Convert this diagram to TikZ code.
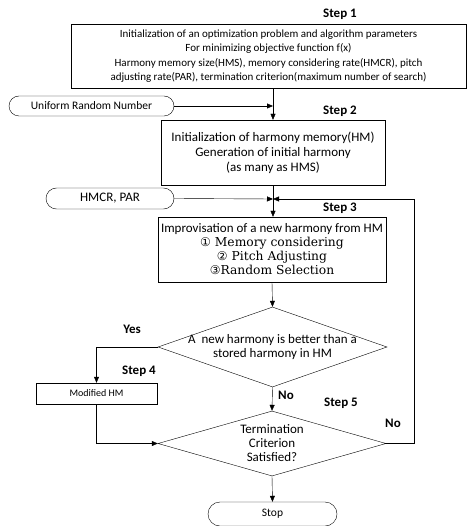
\documentclass[tikz,border=0pt]{standalone}
\usepackage{fontspec}
\setmainfont{Carlito}
\newfontfamily\serifnum{DejaVu Serif}
\newfontfamily\circfont{DejaVu Sans}
\usetikzlibrary{shapes.geometric,shapes.misc,arrows.meta}

\tikzset{
    box/.style={draw, thin, rectangle, align=center, inner sep=1pt, font=\fontsize{13}{15}\selectfont},
    term/.style={draw, thin, rounded rectangle, align=center, inner sep=1pt, font=\fontsize{11.5}{12}\selectfont},
    decision/.style={draw, thin, diamond, inner sep=0pt},
    steplabel/.style={font=\bfseries\fontsize{13}{14}\selectfont},
    arr/.style={-{Triangle[length=6pt,width=5pt]}, thin}
}
\newcommand{\numline}[2]{{\serifnum\fontsize{12.3}{14}\selectfont{\circfont\fontsize{12}{14}\selectfont #1}#2}}

\begin{document}
\begin{tikzpicture}[x=1pt, y=-1pt]
    \useasboundingbox (0,0) rectangle (467,526);
    % boxes of the steps
    \node[box, minimum width=395pt, minimum height=64pt, font=\fontsize{11}{14.3}\selectfont] (step1) at (268.5,56)
        {Initialization of an optimization problem and algorithm parameters\\
         For minimizing objective function f(x)\\
         Harmony memory size(HMS), memory considering rate(HMCR), pitch\\
         adjusting rate(PAR), termination criterion(maximum number of search)};
    \node[box, minimum width=224pt, minimum height=65pt] (step2) at (273,152.5)
        {Initialization of harmony memory(HM)\\
         Generation of initial harmony\\
         (as many as HMS)};
    \node[box, minimum width=228pt, minimum height=65pt, font=\fontsize{13}{14}\selectfont] (step3) at (272,249.5)
        {Improvisation of a new harmony from HM\\
         \numline{①}{ Memory considering}\\
         \numline{②}{ Pitch Adjusting}\\
         \numline{③}{Random Selection}};
    \node[decision, minimum width=229pt, minimum height=80pt,
        label={[align=center, font=\fontsize{13}{14}\selectfont]center:A\ \ new harmony is better than a\\stored harmony in HM}] (dec1) at (272.5,347) {};
    \node[box, minimum width=121pt, minimum height=21pt, font=\fontsize{10}{10}\selectfont] (modhm) at (96.5,393.5) {Modified HM};
    \node[decision, minimum width=228pt, minimum height=65pt,
        label={[align=center, font=\fontsize{13}{14}\selectfont]center:Termination\\Criterion\\Satisfied?}] (dec2) at (272,443.5) {};
    % terminals
    \node[term, minimum width=167pt, minimum height=20pt] (urn) at (91.5,106) {Uniform Random Number};
    \node[term, minimum width=130pt, minimum height=21pt, font=\fontsize{13}{14}\selectfont] (hmcr) at (110,198.5) {HMCR, PAR};
    \node[term, minimum width=131pt, minimum height=24pt] (stop) at (272.5,514) {Stop};
    % labels
    \node[steplabel] (s1) at (340,14) {Step 1};
    \node[steplabel] (s2) at (340,111) {Step 2};
    \node[steplabel] (s3) at (340,208) {Step 3};
    \node[steplabel] (s4) at (139,371) {Step 4};
    \node[steplabel] (s5) at (341,403) {Step 5};
    \node[steplabel] (yes) at (132,329) {Yes};
    \node[steplabel] (no1) at (286,395) {No};
    \node[steplabel] (no2) at (393,423) {No};
    % joints
    \coordinate (j1) at (273,106);
    \coordinate (j2) at (273,199);
    \coordinate (fb) at (414,199);
    % connectors
    \draw[thin] (step1.south -| j1) -- (j1);
    \draw[arr] (j1) -- (step2.north -| j1);
    \draw[arr] (urn.east) -- (j1);
    \draw[thin] (step2.south -| j2) -- (j2);
    \draw[arr] (j2) -- (step3.north -| j2);
    \draw[arr] (hmcr.east) -- (j2);
    \draw[arr] (step3.south) -- (dec1.north);
    \draw[arr] (dec1.west) -| (modhm.north);
    \draw[arr] (dec1.south) -- (dec2.north);
    \draw[arr] (modhm.south) |- (dec2.west);
    \draw[arr] (dec2.east) -| (fb) -- (j2);
    \draw[arr] (dec2.south) -- (stop.north);
\end{tikzpicture}
\end{document}
